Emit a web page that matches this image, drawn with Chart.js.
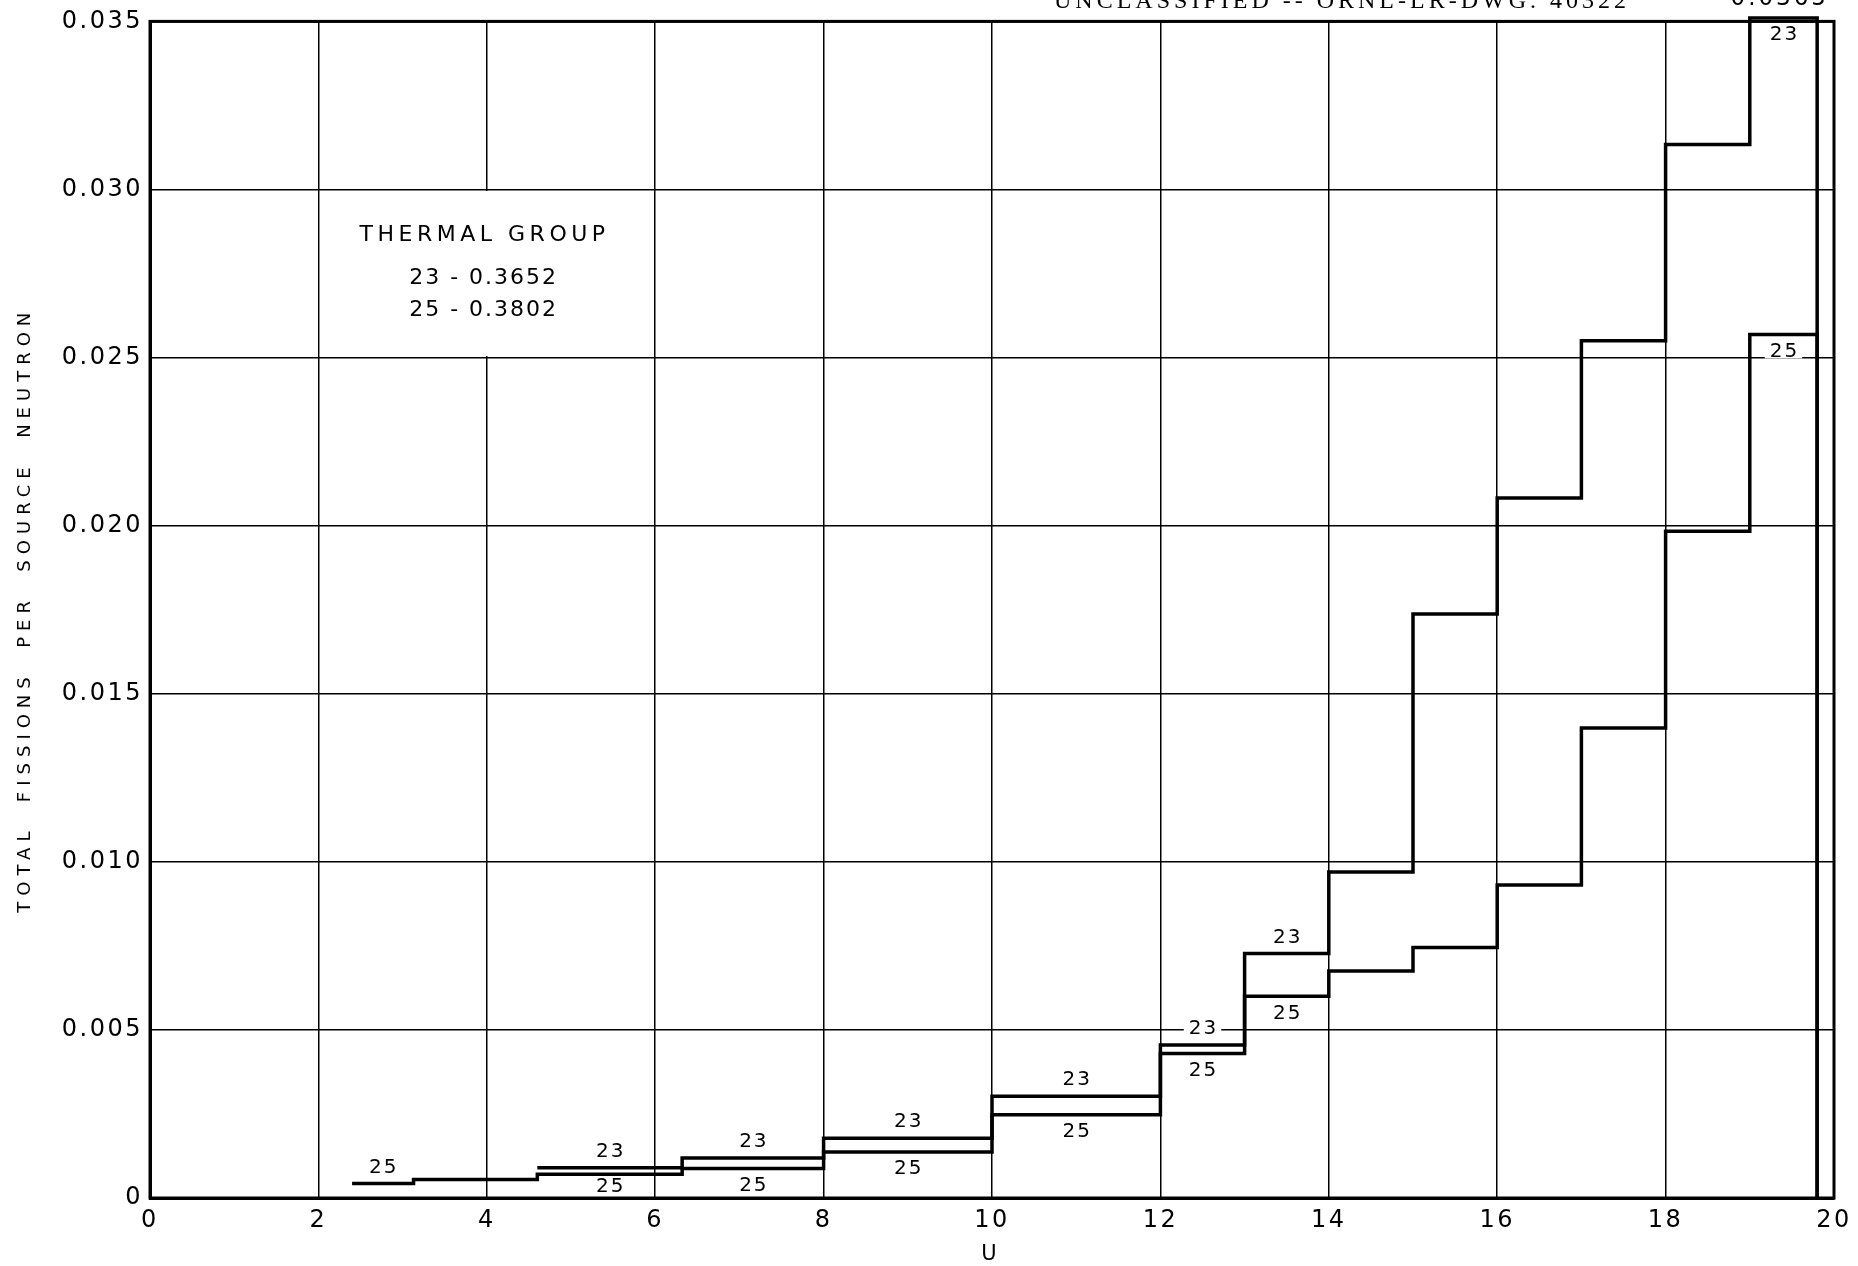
<!DOCTYPE html>
<html><head><meta charset="utf-8">
<script src="https://cdn.jsdelivr.net/npm/chart.js@4.4.1/dist/chart.umd.min.js"></script>
<style>html,body{margin:0;padding:0;background:#fff;} #wrap{width:1858px;height:1266px;position:relative;}</style>
</head><body><div id="wrap"><canvas id="c" width="1858" height="1266"></canvas></div>
<script>
// ---- data ----
const xTickLabels = ['0','2','4','6','8','10','12','14','16','18','20'];
const yTickLabels = ['0','0.005','0.010','0.015','0.020','0.025','0.030','0.035'];
const seriesNames = ['23','25'];
// step edges (U) and group values (fissions per source neutron)
const edges23 = [4.6, 6.32, 8, 10, 12, 13, 14, 15, 16, 17, 18, 19.0, 19.8];
const values23 = [0.0009, 0.00119, 0.00178, 0.00303, 0.00455, 0.00727, 0.0097, 0.01737, 0.02082, 0.0255, 0.03134, 0.0351];
const edges25 = [2.4, 3.13, 4.6, 6.32, 8, 10, 12, 13, 14, 15, 16, 17, 18, 19.0, 19.8];
const values25 = [0.00043, 0.00055, 0.00071, 0.00088, 0.00137, 0.00248, 0.0043, 0.006, 0.00675, 0.00745, 0.00931, 0.01398, 0.01983, 0.02569];
const labeledSegs23 = [0, 1, 2, 3, 4, 5, 11];
const labeledSegs25 = [0, 2, 3, 4, 5, 6, 7, 13];
const thermalLines = ['THERMAL GROUP', '23 - 0.3652', '25 - 0.3802'];
const offScaleLabel = '0.0365';
const drawingTitle = 'UNCLASSIFIED -- ORNL-LR-DWG. 40322';

function stepPoints(edges, vals) {
  const pts = vals.map((v, i) => ({x: edges[i], y: v}));
  const last = edges[edges.length - 1];
  pts.push({x: last, y: vals[vals.length - 1]});
  pts.push({x: last, y: 0});
  return pts;
}

const FONT = 'DejaVu Sans';

const notes = {
  id: 'notes',
  beforeDraw(chart) { chart.ctx.letterSpacing = '6px'; },
  beforeDatasetsDraw(chart) {
    const {ctx, chartArea: a, scales: {x, y}} = chart;
    ctx.save();
    ctx.letterSpacing = '0px';
    // blank box for the thermal-group note
    const bx0 = x.getPixelForValue(2) + 1.5, bx1 = x.getPixelForValue(6) - 1.5;
    const by0 = y.getPixelForValue(0.030) + 1.5, by1 = y.getPixelForValue(0.025) - 1.5;
    ctx.fillStyle = '#fff';
    ctx.fillRect(bx0, by0, bx1 - bx0, by1 - by0);
    // frame
    ctx.strokeStyle = '#000';
    ctx.lineWidth = 3;
    ctx.strokeRect(a.left, a.top, a.right - a.left, a.bottom - a.top);
    ctx.restore();
  },
  afterDatasetsDraw(chart) { chart.ctx.letterSpacing = '2.5px'; },
  afterDraw(chart) {
    const {ctx, chartArea: a, scales: {x, y}} = chart;
    ctx.save();
    ctx.fillStyle = '#000';
    // segment labels
    ctx.font = '20px "' + FONT + '"';
    ctx.letterSpacing = '2px';
    ctx.textAlign = 'center';
    ctx.textBaseline = 'middle';
    const segLabel = (name, edges, vals, idx, above) => {
      const cx = x.getPixelForValue((edges[idx] + edges[idx + 1]) / 2);
      const ly = y.getPixelForValue(vals[idx]);
      const cy = above ? ly - 16 : Math.min(ly + 17, a.bottom - 11);
      const w = ctx.measureText(name).width;
      ctx.fillStyle = '#fff';
      ctx.fillRect(cx - w / 2 - 4, cy - 7, w + 8, 14);
      ctx.fillStyle = '#000';
      ctx.fillText(name, cx + 1, cy);
    };
    labeledSegs23.forEach(i => segLabel(seriesNames[0], edges23, values23, i, i !== values23.length - 1));
    labeledSegs25.forEach(i => segLabel(seriesNames[1], edges25, values25, i, i === 0));
    // thermal group note
    const tx = x.getPixelForValue(3.95);
    ctx.font = '22px "' + FONT + '"';
    ctx.letterSpacing = '4.5px';
    ctx.fillText(thermalLines[0], tx + 2, y.getPixelForValue(0.02864));
    ctx.letterSpacing = '2px';
    ctx.fillText(thermalLines[1], tx + 1, y.getPixelForValue(0.02737));
    ctx.fillText(thermalLines[2], tx + 1, y.getPixelForValue(0.02642));
    // off-scale value at top right
    ctx.textBaseline = 'alphabetic';
    ctx.textAlign = 'right';
    ctx.font = '23px "' + FONT + '"';
    ctx.letterSpacing = '3px';
    ctx.fillText(offScaleLabel, 1829, 5);
    // drawing number
    ctx.font = '24px "Liberation Serif"';
    ctx.letterSpacing = '4px';
    ctx.fillText(drawingTitle, 1630, 8);
    ctx.restore();
  }
};

const lineStyle = {borderColor: '#000', borderWidth: 3.5, pointRadius: 0, fill: false,
  stepped: 'before', clip: false, borderJoinStyle: 'miter', borderCapStyle: 'butt'};

new Chart(document.getElementById('c'), {
  type: 'line',
  data: {
    datasets: [
      Object.assign({label: seriesNames[0], data: stepPoints(edges23, values23)}, lineStyle),
      Object.assign({label: seriesNames[1], data: stepPoints(edges25, values25)}, lineStyle)
    ]
  },
  options: {
    responsive: false, animation: false, devicePixelRatio: 1,
    layout: {padding: {top: 16, right: 24, left: 0, bottom: 0}},
    plugins: {legend: {display: false}, tooltip: {enabled: false}},
    scales: {
      x: {
        type: 'linear', min: 0, max: 20,
        ticks: {stepSize: 2, color: '#000', font: {family: FONT, size: 24}, padding: 8, z: 1,
          maxRotation: 0, autoSkip: false, callback: (v, i) => xTickLabels[i]},
        grid: {color: '#000', lineWidth: 1.5, drawTicks: false},
        border: {color: '#000', width: 3},
        title: {display: true, text: 'U', color: '#000', font: {family: FONT, size: 21, lineHeight: 1}, padding: {top: 0, bottom: 1}},
        afterFit: (s) => { s.height = 68; }
      },
      y: {
        type: 'linear', min: 0, max: 0.035,
        ticks: {stepSize: 0.005, color: '#000', font: {family: FONT, size: 24}, padding: 7, z: 1,
          autoSkip: false, callback: (v, i) => yTickLabels[i]},
        grid: {color: '#000', lineWidth: 1.5, drawTicks: false},
        border: {color: '#000', width: 3},
        title: {display: true, text: 'TOTAL  FISSIONS  PER  SOURCE  NEUTRON', color: '#000',
          font: {family: FONT, size: 18, lineHeight: 1.2}, padding: {top: 15, bottom: 0}},
        afterFit: (s) => { s.width = 150; }
      }
    }
  },
  plugins: [notes]
});
</script>
</body></html>
